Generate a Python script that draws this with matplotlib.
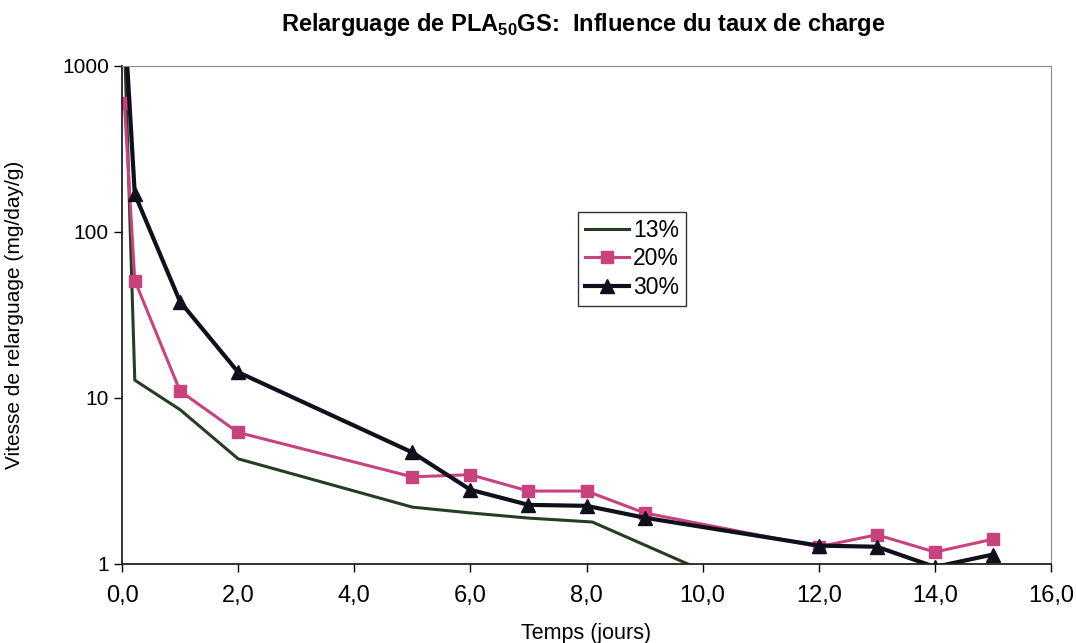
import numpy as np
import matplotlib
matplotlib.use("Agg")
import matplotlib.pyplot as plt
from matplotlib.ticker import FixedLocator, FixedFormatter, NullLocator

plt.rcParams['font.family'] = ['Liberation Sans', 'DejaVu Sans']
plt.rcParams['mathtext.fontset'] = 'custom'
plt.rcParams['mathtext.rm'] = 'Liberation Sans'
plt.rcParams['mathtext.bf'] = 'Liberation Sans:bold'

# 13 % (no markers)
t13 = [0.04, 0.22, 1.0, 2.0, 5.0, 6.0, 7.0, 8.1, 12.0]
v13 = [1500, 12.8, 8.5, 4.3, 2.2, 2.03, 1.89, 1.79, 0.45]

# 20 %
t20 = [0.04, 0.22, 1.0, 2.0, 5.0, 6.0, 7.0, 8.0, 9.0, 12.0, 13.0, 14.0, 15.0]
v20 = [600, 51, 11.0, 6.2, 3.35, 3.45, 2.75, 2.75, 2.03, 1.27, 1.5, 1.18, 1.41]

# 30 %
t30 = [0.04, 0.22, 1.0, 2.0, 5.0, 6.0, 7.0, 8.0, 9.0, 12.0, 13.0, 14.0, 15.0]
v30 = [2000, 169, 38, 14.3, 4.7, 2.8, 2.27, 2.24, 1.9, 1.29, 1.27, 0.96, 1.14]

xticks = [0, 2, 4, 6, 8, 10, 12, 14, 16]
xticklabels = ['0,0', '2,0', '4,0', '6,0', '8,0', '10,0', '12,0', '14,0', '16,0']
yticks = [1, 10, 100, 1000]
yticklabels = ['1', '10', '100', '1000']

fig = plt.figure(figsize=(10.76, 6.43), dpi=100)
ax = fig.add_axes([0.1134, 0.1229, 0.8634, 0.7745])

ax.plot(t13, v13, color='#243d24', lw=2.2, label='13%')
ax.plot(t20, v20, color='#c8437e', lw=2.2, marker='s', markersize=9,
        markeredgecolor='#c8437e', label='20%')
ax.plot(t30, v30, color='#10101c', lw=3, marker='^', markersize=10,
        label='30%')

ax.set_yscale('log')
ax.set_xlim(0, 16)
ax.set_ylim(1, 1000)
ax.xaxis.set_major_locator(FixedLocator(xticks))
ax.xaxis.set_major_formatter(FixedFormatter(xticklabels))
ax.yaxis.set_major_locator(FixedLocator(yticks))
ax.yaxis.set_major_formatter(FixedFormatter(yticklabels))
ax.yaxis.set_minor_locator(NullLocator())
ax.tick_params(axis='both', length=6, width=1, direction='out')
ax.tick_params(axis='x', labelsize=17, pad=9)
ax.tick_params(axis='y', labelsize=15)

for s in ['top', 'right']:
    ax.spines[s].set_color('#888888')
for s in ['left', 'bottom']:
    ax.spines[s].set_color('#222222')
    ax.spines[s].set_linewidth(1.3)

ax.set_xlabel('Temps (jours)', fontsize=15.5)
ax.xaxis.set_label_coords(0.5, -0.118)
ax.set_ylabel('Vitesse de relarguage (mg/day/g)', fontsize=15)
ax.yaxis.set_label_coords(-0.106, 0.5)

fig.text(0.542, 0.962, r'Relarguage de PLA$_{\mathbf{50}}$GS:  Influence du taux de charge',
         ha='center', va='center', fontsize=17, fontweight='bold')

leg = ax.legend(loc='upper left', bbox_to_anchor=(0.491, 0.707), fontsize=16.5,
                fancybox=False, edgecolor='#333333', framealpha=1,
                handlelength=1.9, handletextpad=0.2, borderpad=0.3,
                labelspacing=0.25, borderaxespad=0)
leg.get_frame().set_linewidth(1)

fig.savefig('out.png', dpi=100)
